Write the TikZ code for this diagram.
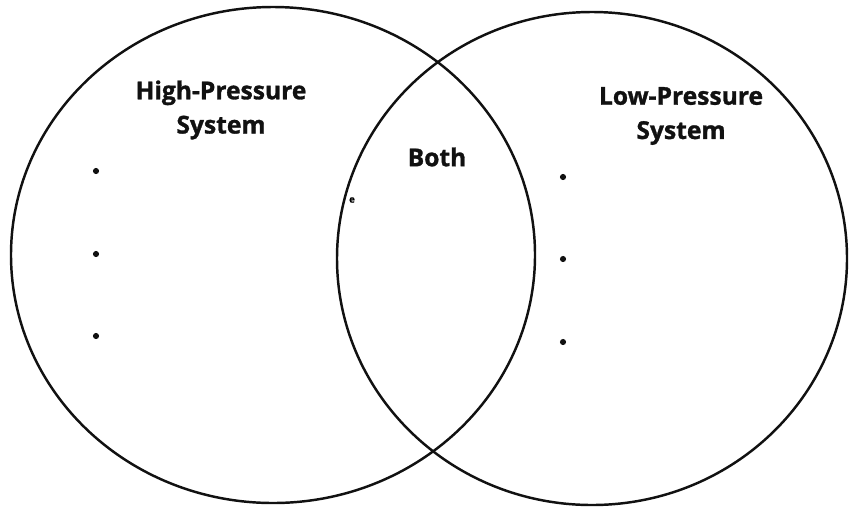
\documentclass[tikz,border=0pt]{standalone}
\usepackage{fontspec}
\setmainfont{Open Sans}[BoldFeatures={FakeBold=1.2}]
\usepackage{tikz}
\usetikzlibrary{positioning}
\definecolor{ink}{HTML}{111111}

\tikzset{
  ring/.style={draw=ink, line width=1.4pt},
  heading/.style={font=\bfseries\fontsize{14}{19.5}\selectfont, align=center, text=ink},
  bullet/.style={circle, fill=ink, inner sep=0pt, minimum size=3.5pt}
}

\begin{document}
\begin{tikzpicture}[x=0.02cm, y=-0.02cm]
  \useasboundingbox (0,0) rectangle (851,508);
  % the two sets
  \draw[ring] (273,255) ellipse [x radius=262, y radius=248];
  \draw[ring] (592,258.5) ellipse [x radius=255, y radius=246.5];
  % headings
  \node[heading] (high) at (221,110) {High-Pressure\\System};
  \node[heading] (both) at (437,157) {Both};
  \node[heading] (low) at (681,116) {Low-Pressure\\System};
  \node[font=\bfseries\fontsize{5.5}{5.5}\selectfont, inner sep=0pt] (mark) at (352,200) {e};
  % bullet points
  \foreach \y [count=\i] in {171,254,336}
    \node[bullet] (hp\i) at (96,\y) {};
  \foreach \y [count=\i] in {177,259,342}
    \node[bullet] (lp\i) at (563,\y) {};
\end{tikzpicture}
\end{document}
